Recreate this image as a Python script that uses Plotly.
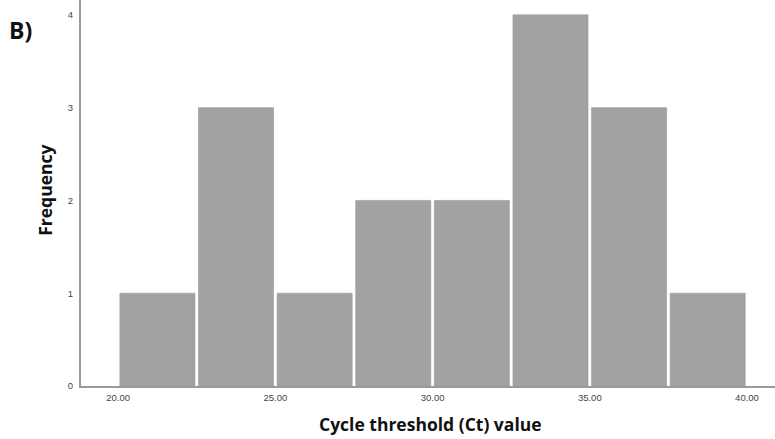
import plotly.graph_objects as go

bin_starts = [20.0, 22.5, 25.0, 27.5, 30.0, 32.5, 35.0, 37.5]
bin_width = 2.5
counts = [1, 3, 1, 2, 2, 4, 3, 1]
x_ticks = [20, 25, 30, 35, 40]
x_tick_labels = ["20.00", "25.00", "30.00", "35.00", "40.00"]
y_ticks = [0, 1, 2, 3, 4]

centers = [s + bin_width / 2 for s in bin_starts]

fig = go.Figure(go.Bar(
    x=centers, y=counts, width=[bin_width * 0.955] * len(counts),
    marker=dict(color="#a2a2a2", line=dict(color="#999999", width=0.6)),
))

fig.update_layout(
    width=775, height=439,
    margin=dict(l=81, r=0, t=0, b=53),
    plot_bgcolor="white", paper_bgcolor="white",
    showlegend=False,
    font=dict(family="Liberation Sans, Arial", color="#333"),
)
fig.update_xaxes(
    range=[18.82, 40.89], tickvals=x_ticks, ticktext=x_tick_labels,
    tickfont=dict(size=9.5, color="#444"), showgrid=False, zeroline=False,
    showline=True, linecolor="#9a9a9a", linewidth=2, ticks="",
    automargin=False, ticklabelstandoff=2,
)
fig.update_yaxes(
    range=[0, 4.16], tickvals=y_ticks,
    tickfont=dict(size=9.5, color="#444"), showgrid=False, zeroline=False,
    showline=True, linecolor="#9a9a9a", linewidth=2, ticks="",
    automargin=False, ticklabelstandoff=4,
)
title_font = dict(family="Open Sans", size=17.5, color="#111", weight="bold")
fig.add_annotation(text="Cycle threshold (Ct) value", xref="paper", yref="paper",
                   x=0.504, y=-0.098, xanchor="center", yanchor="middle",
                   showarrow=False, font=title_font)
fig.add_annotation(text="Frequency", xref="paper", yref="paper", textangle=-90,
                   x=-0.052, y=0.508, xanchor="center", yanchor="middle",
                   showarrow=False, font=title_font)
fig.add_annotation(text="B)", xref="paper", yref="paper", x=-0.0865, y=0.922,
                   xanchor="center", yanchor="middle", showarrow=False,
                   font=dict(family="Open Sans", size=23, color="#111", weight="bold"))
fig.write_html("out.html", config={"displayModeBar": False},
               post_script="document.body.style.margin='0';document.body.style.overflow='hidden';")
